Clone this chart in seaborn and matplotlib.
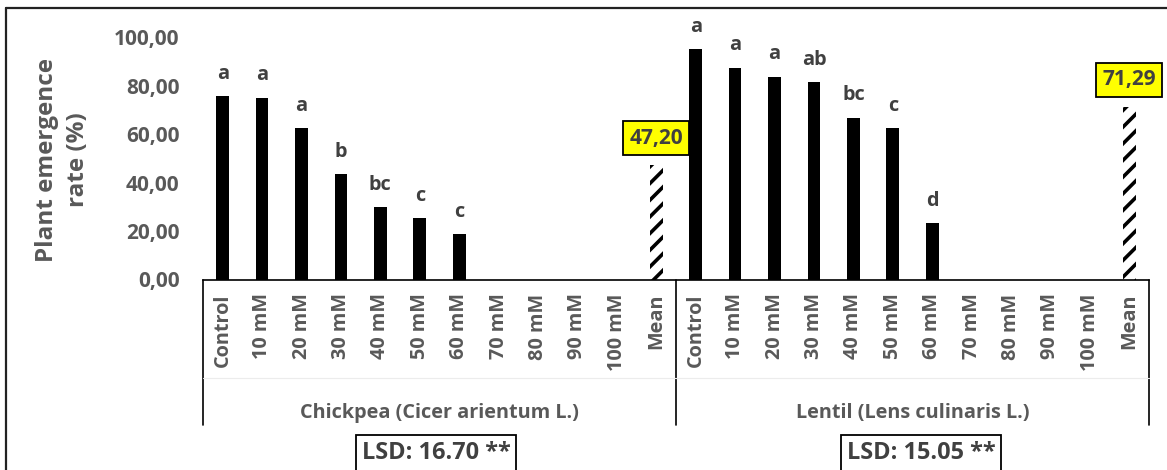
import matplotlib
matplotlib.use("Agg")
import matplotlib.pyplot as plt
from matplotlib.lines import Line2D
import pandas as pd
import seaborn as sns

# ---- data -------------------------------------------------------------
treatments = ["Control", "10 mM", "20 mM", "30 mM", "40 mM", "50 mM",
              "60 mM", "70 mM", "80 mM", "90 mM", "100 mM", "Mean"]
crops = ["Chickpea (Cicer arientum L.)", "Lentil (Lens culinaris L.)"]

chickpea_rate = [75.8, 75.1, 62.4, 43.5, 29.9, 25.4, 18.8, 0, 0, 0, 0, 47.20]
lentil_rate = [95.2, 87.5, 83.8, 81.6, 66.8, 62.4, 23.2, 0, 0, 0, 0, 71.29]

chickpea_letters = ["a", "a", "a", "b", "bc", "c", "c", "", "", "", "", ""]
lentil_letters = ["a", "a", "a", "ab", "bc", "c", "d", "", "", "", "", ""]

lsd_labels = ["LSD: 16.70 **", "LSD: 15.05 **"]

y_ticks = [0, 20, 40, 60, 80, 100]

# ---- long-format table ------------------------------------------------
rows = []
for crop, rates, letters in zip(crops, [chickpea_rate, lentil_rate],
                                [chickpea_letters, lentil_letters]):
    for t, v, l in zip(treatments, rates, letters):
        rows.append({"slot": f"{crop} | {t}", "treatment": t, "crop": crop,
                     "rate": v, "letter": l,
                     "kind": "Mean" if t == "Mean" else "Treatment"})
df = pd.DataFrame(rows)
order = list(df["slot"])

# ---- style ------------------------------------------------------------
sns.set_theme(style="white")
plt.rcParams["font.family"] = ["Open Sans", "DejaVu Sans"]
plt.rcParams["font.weight"] = "bold"
plt.rcParams["hatch.linewidth"] = 2.6

TICK_GREY = "#595959"
DARK_GREY = "#404040"
FS = 14.3

W, H = 11.67, 4.70
fig = plt.figure(figsize=(W, H), dpi=100)
px_w, px_h = W * 100, H * 100
ax_left, ax_right, ax_top, ax_bottom = 203, 1149, 37.5, 279.5
ax = fig.add_axes([ax_left / px_w, 1 - ax_bottom / px_h,
                   (ax_right - ax_left) / px_w, (ax_bottom - ax_top) / px_h])

sns.barplot(data=df, x="slot", y="rate", hue="kind", order=order,
            hue_order=["Treatment", "Mean"],
            palette={"Treatment": "black", "Mean": "white"},
            dodge=False, width=0.32, linewidth=0, errorbar=None,
            legend=False, ax=ax)

# hatched mean bars
for bar in ax.containers[1]:
    bar.set_hatch("//")
    bar.set_edgecolor("black")
    bar.set_linewidth(0)

ax.set_ylim(0, 100)
ax.set_xlim(-0.5, len(order) - 0.5)
ax.set_yticks(y_ticks)
ax.set_yticklabels([f"{v:.2f}".replace(".", ",") for v in y_ticks],
                   color=TICK_GREY, fontsize=15, fontweight="bold")
ax.set_xticks(range(len(order)))
ax.set_xticklabels(df["treatment"], rotation=90, color=TICK_GREY,
                   fontsize=FS, fontweight="bold", va="top", ha="center")
ax.tick_params(axis="y", length=0, pad=17)
ax.tick_params(axis="x", length=0, pad=10)
ax.set_xlabel("")
ax.set_ylabel("Plant emergence\nrate (%)", color=TICK_GREY, fontsize=17.5,
              fontweight="bold", linespacing=1.35, va="center")
ax.yaxis.set_label_coords((62.5 - ax_left) / (ax_right - ax_left),
                          (ax_bottom - 160) / (ax_bottom - ax_top))

for side in ["top", "left", "right"]:
    ax.spines[side].set_visible(False)
ax.spines["bottom"].set_color("black")
ax.spines["bottom"].set_linewidth(1.2)

# significance letters and mean boxes
for i, r in df.iterrows():
    if r["letter"]:
        ax.annotate(r["letter"], (i, r["rate"]), xytext=(0, 12.5),
                    textcoords="offset points", ha="center", va="baseline",
                    color=DARK_GREY, fontsize=FS, fontweight="bold")
    if r["kind"] == "Mean":
        ax.annotate(f"{r['rate']:.2f}".replace(".", ","), (i, r["rate"]),
                    xytext=(0, 19.5), textcoords="offset points",
                    ha="center", va="center", color=DARK_GREY,
                    fontsize=15, fontweight="bold", annotation_clip=False,
                    bbox=dict(boxstyle="square,pad=0.3", fc="#ffff00",
                              ec="black", lw=1.3))

# grouped category box beneath the axis
to_ax_y = lambda py: (ax_bottom - py) / (ax_bottom - ax_top)
xtr = ax.get_xaxis_transform()
n = len(treatments)
for xb in [-0.5, n - 0.5, 2 * n - 0.5]:
    ax.plot([xb, xb], [0, to_ax_y(425)], color="black", lw=1.2,
            transform=xtr, clip_on=False)
ax.plot([-0.5, 2 * n - 0.5], [to_ax_y(378)] * 2, color="#ececec", lw=0.8,
        transform=xtr, clip_on=False)
for k, crop in enumerate(crops):
    ax.text(k * n + (n - 1) / 2, to_ax_y(413), crop, transform=xtr,
            ha="center", va="center", color=TICK_GREY, fontsize=FS,
            fontweight="bold")

# LSD boxes
for cx, lab in zip([436, 921], lsd_labels):
    fig.text(cx / px_w, 1 - 453 / px_h, lab, ha="center", va="center",
             color=DARK_GREY, fontsize=16.9, fontweight="bold",
             bbox=dict(boxstyle="square,pad=0.25", fc="white", ec="black",
                       lw=1.3))

# outer chart frame
fig.add_artist(Line2D([6 / px_w, 1], [1 - 8 / px_h] * 2, color="#222222",
                      lw=1.6, transform=fig.transFigure))
fig.add_artist(Line2D([6 / px_w] * 2, [0, 1 - 8 / px_h], color="#222222",
                      lw=1.6, transform=fig.transFigure))

fig.savefig("out.png", dpi=100)
